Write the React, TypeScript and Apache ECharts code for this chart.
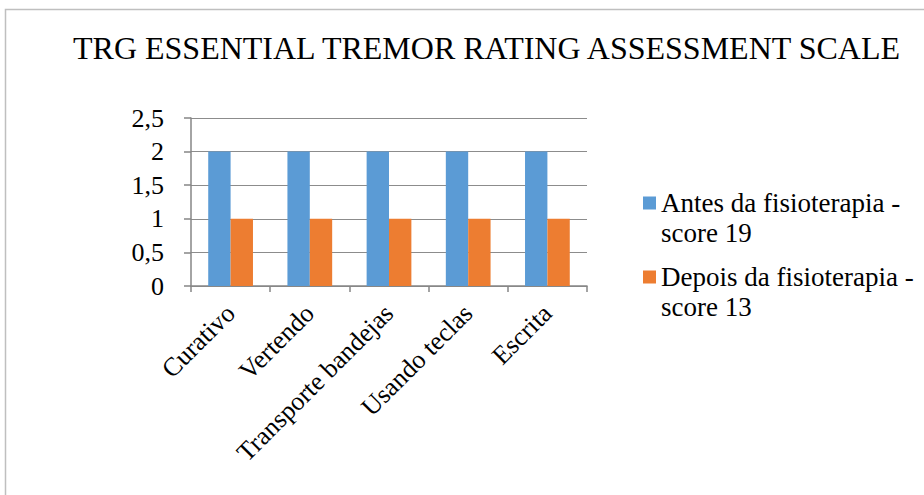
import React, { useEffect, useRef } from "react";
import * as echarts from "echarts";

const titleText = "TRG ESSENTIAL TREMOR RATING ASSESSMENT SCALE";
const categories = ["Curativo", "Vertendo", "Transporte bandejas", "Usando teclas", "Escrita"];
const seriesNames = ["Antes da fisioterapia -\nscore 19", "Depois da fisioterapia -\nscore 13"];
const antes = [2, 2, 2, 2, 2];
const depois = [1, 1, 1, 1, 1];
const colors = ["#5B9BD5", "#ED7D31"];
const FONT = "Liberation Serif";

export default function App() {
  const ref = useRef<HTMLDivElement>(null);
  useEffect(() => {
    if (!ref.current) return;
    const chart = echarts.init(ref.current, null, { renderer: "svg" });
    chart.setOption({
      animation: false,
      backgroundColor: "#ffffff",
      textStyle: { fontFamily: FONT, color: "#000" },
      title: {
        text: titleText,
        left: 73,
        top: 32,
        padding: 0,
        textStyle: { fontFamily: FONT, fontSize: 32, fontWeight: "normal", color: "#000" },
      },
      graphic: [
        {
          type: "rect",
          shape: { x: 5.5, y: 9.5, width: 1000, height: 600 },
          style: { fill: "none", stroke: "#bfbfbf", lineWidth: 1.5 },
          silent: true,
        },
      ],
      legend: {
        orient: "vertical",
        left: 643,
        top: 158,
        padding: 0,
        itemWidth: 13,
        itemHeight: 13,
        itemGap: -16,
        icon: "rect",
        data: seriesNames,
        formatter: (name: string) => " \n" + name,
        textStyle: {
          fontFamily: FONT,
          fontSize: 27,
          color: "#000",
          lineHeight: 30,
        },
      },
      grid: { left: 191, right: 337, top: 118, bottom: 209, containLabel: false },
      xAxis: {
        type: "category",
        data: categories,
        boundaryGap: true,
        axisLine: { lineStyle: { color: "#868686", width: 1.5 } },
        axisTick: { show: true, length: 6, lineStyle: { color: "#868686", width: 1.5 } },
        axisLabel: {
          interval: 0,
          rotate: 45,
          margin: 23,
          fontFamily: FONT,
          fontSize: 26,
          color: "#000",
        },
      },
      yAxis: {
        type: "value",
        min: 0,
        max: 2.5,
        interval: 0.5,
        axisLine: { show: true, lineStyle: { color: "#868686", width: 1.5 } },
        axisTick: { show: true, length: 7, lineStyle: { color: "#868686", width: 1.5 } },
        splitLine: { lineStyle: { color: "#8c8c8c", width: 1.2 } },
        axisLabel: {
          margin: 27,
          fontFamily: FONT,
          fontSize: 26,
          color: "#000",
          formatter: (v: number) => String(v).replace(".", ","),
        },
      },
      series: [
        {
          name: seriesNames[0],
          type: "bar",
          data: antes,
          itemStyle: { color: colors[0] },
          barGap: "0%",
          barCategoryGap: "43.5%",
        },
        {
          name: seriesNames[1],
          type: "bar",
          data: depois,
          itemStyle: { color: colors[1] },
          barGap: "0%",
          barCategoryGap: "43.5%",
        },
      ],
    });
    return () => chart.dispose();
  }, []);
  return (
    <div
      ref={ref}
      style={{ position: "fixed", left: 0, top: 0, width: 924, height: 495 }}
    />
  );
}
